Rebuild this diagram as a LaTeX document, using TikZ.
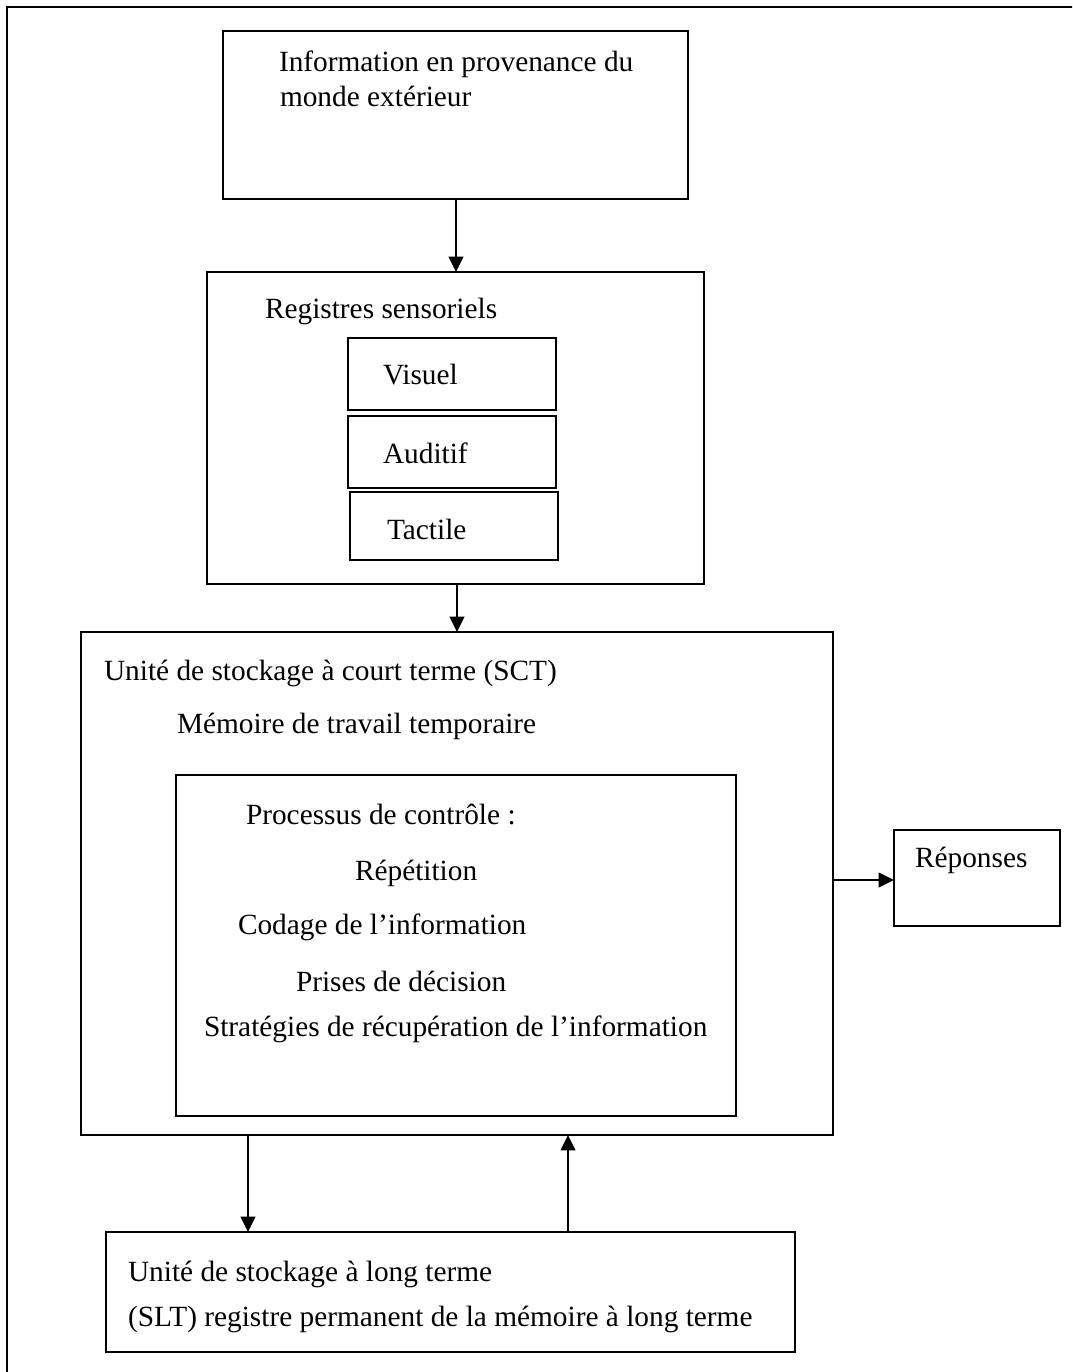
\documentclass[tikz,border=0pt]{standalone}
\usepackage{fontspec}
\setmainfont{Liberation Serif}
\usetikzlibrary{arrows.meta}
\begin{document}
\begin{tikzpicture}[x=0.75pt,y=-0.75pt,
  box/.style={draw,line width=1.4pt,rectangle,inner sep=0pt,outer sep=0pt},
  sz/.style 2 args={minimum width=#1*0.75pt,minimum height=#2*0.75pt},
  lbl/.style={anchor=base west,inner sep=0pt,outer sep=0pt},
  flow/.style={line width=1.2pt,-{Triangle[length=11.5pt,width=11pt]}},
  every node/.append style={font=\fontsize{22}{26}\selectfont}]
\useasboundingbox (0,0) rectangle (1072,1372);
\clip (0,0) rectangle (1072,1372);
% page frame (open on the right and at the bottom)
\draw[line width=1.6pt] (7,7) rectangle (1100,1400);

% boxes
\node[box,sz={465}{168}] (info) at (455.5,115) {};
\node[box,sz={497}{312}] (sens) at (455.5,428) {};
\node[box,sz={208}{72}] (vis) at (452,374) {};
\node[box,sz={208}{72}] (aud) at (452,452) {};
\node[box,sz={208}{68}] (tac) at (454,526) {};
\node[box,sz={752}{503}] (sct) at (457,883.5) {};
\node[box,sz={560}{341}] (ctrl) at (456,945.5) {};
\node[box,sz={166}{96}] (rep) at (977,878) {};
\node[box,sz={689}{120}] (slt) at (450.5,1292) {};

% texts
\node[lbl] (t1) at (279,71) {Information en provenance du};
\node[lbl] (t2) at (280,106) {monde extérieur};
\node[lbl] (t3) at (265,318) {Registres sensoriels};
\node[lbl] (t4) at (383,384) {Visuel};
\node[lbl] (t5) at (383,463) {Auditif};
\node[lbl] (t6) at (387,539) {Tactile};
\node[lbl] (t7) at (104,680) {Unité de stockage à court terme (SCT)};
\node[lbl] (t8) at (177,733) {Mémoire de travail temporaire};
\node[lbl] (t9) at (246,824) {Processus de contrôle :};
\node[lbl] (t10) at (355,880) {Répétition};
\node[lbl] (t11) at (238,934) {Codage de l’information};
\node[lbl] (t12) at (296,991) {Prises de décision};
\node[lbl] (t13) at (204,1036) {Stratégies de récupération de l’information};
\node[lbl] (t14) at (915,867) {Réponses};
\node[lbl] (t15) at (128,1281) {Unité de stockage à long terme};
\node[lbl] (t16) at (128,1326) {(SLT) registre permanent de la mémoire à long terme};

% connectors
\draw[flow] (456,0 |- info.south) -- (456,0 |- sens.north);
\draw[flow] (457,0 |- sens.south) -- (457,0 |- sct.north);
\draw[flow] (sct.east |- 0,880) -- (rep.west |- 0,880);
\draw[flow] (248,0 |- sct.south) -- (248,0 |- slt.north);
\draw[flow] (568,0 |- slt.north) -- (568,0 |- sct.south);
\end{tikzpicture}
\end{document}
